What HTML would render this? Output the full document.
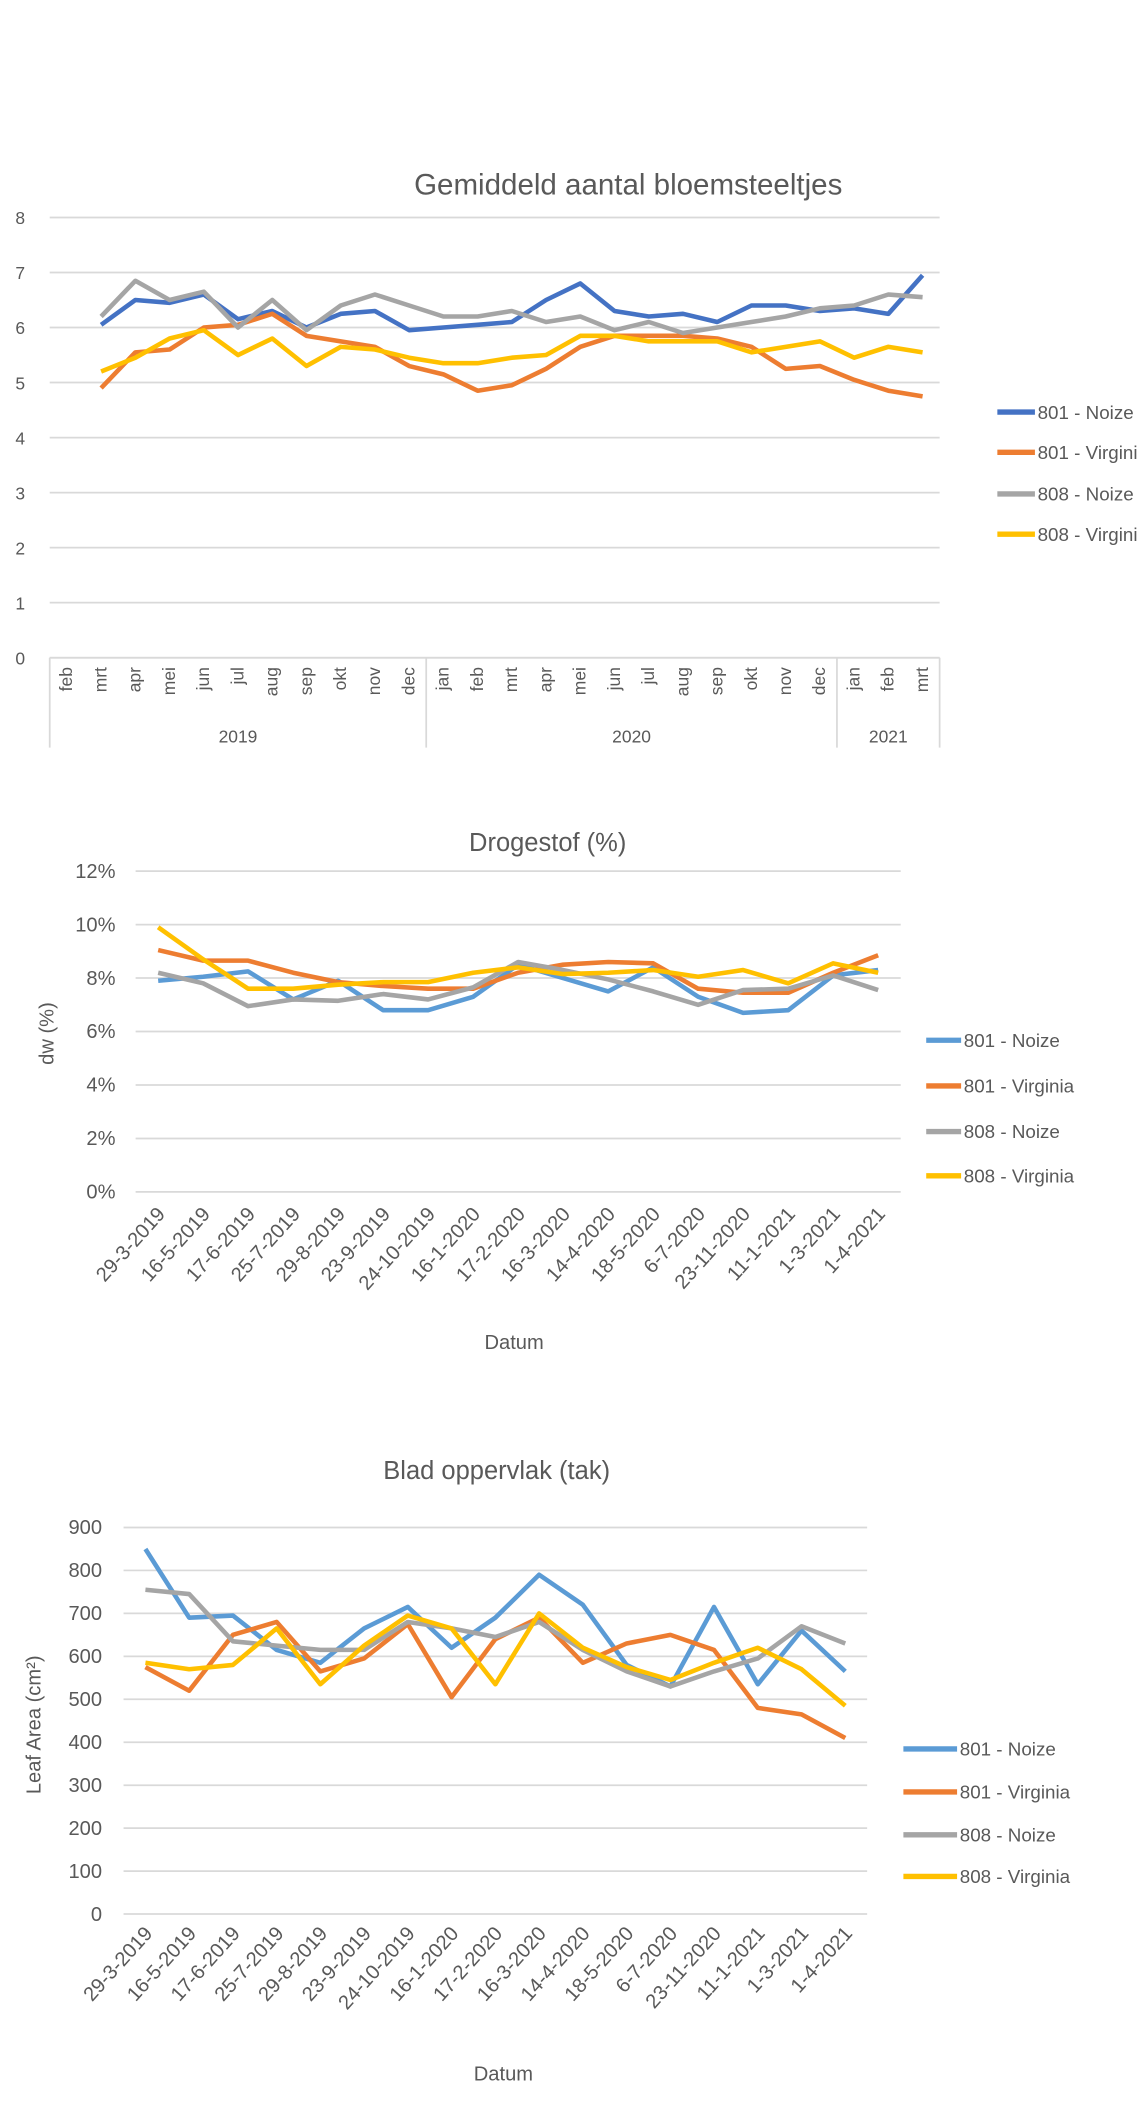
<!DOCTYPE html>
<html><head><meta charset="utf-8"><style>html,body{margin:0;padding:0;background:#fff}svg{display:block}text{font-family:"Liberation Sans",sans-serif;fill:#595959}</style></head>
<body>
<svg id="s" width="1137" height="2106" viewBox="0 0 847 1569" xmlns="http://www.w3.org/2000/svg"></svg>
<script>
// Chart 1 data
const c1Months = ["feb","mrt","apr","mei","jun","jul","aug","sep","okt","nov","dec","jan","feb","mrt","apr","mei","jun","jul","aug","sep","okt","nov","dec","jan","feb","mrt"];
const c1Years = ["2019","2020","2021"];
const c1YearCounts = [11,12,3];
const c1Ticks = ["0","1","2","3","4","5","6","7","8"];
const c1Noize801 = [null,6.05,6.5,6.45,6.6,6.15,6.3,6.0,6.25,6.3,5.95,6.0,6.05,6.1,6.5,6.8,6.3,6.2,6.25,6.1,6.4,6.4,6.3,6.35,6.25,6.95];
const c1Virg801 = [null,4.9,5.55,5.6,6.0,6.05,6.25,5.85,5.75,5.65,5.3,5.15,4.85,4.95,5.25,5.65,5.85,5.85,5.85,5.8,5.65,5.25,5.3,5.05,4.85,4.75];
const c1Noize808 = [null,6.2,6.85,6.5,6.65,6.0,6.5,5.95,6.4,6.6,6.4,6.2,6.2,6.3,6.1,6.2,5.95,6.1,5.9,6.0,6.1,6.2,6.35,6.4,6.6,6.55];
const c1Virg808 = [null,5.2,5.45,5.8,5.95,5.5,5.8,5.3,5.65,5.6,5.45,5.35,5.35,5.45,5.5,5.85,5.85,5.75,5.75,5.75,5.55,5.65,5.75,5.45,5.65,5.55];
// Chart 2/3 categories
const dates = ["29-3-2019","16-5-2019","17-6-2019","25-7-2019","29-8-2019","23-9-2019","24-10-2019","16-1-2020","17-2-2020","16-3-2020","14-4-2020","18-5-2020","6-7-2020","23-11-2020","11-1-2021","1-3-2021","1-4-2021"];
const c2Ticks = ["0%","2%","4%","6%","8%","10%","12%"];
const c2Noize801 = [7.9,8.05,8.25,7.2,7.9,6.8,6.8,7.3,8.5,8.0,7.5,8.4,7.3,6.7,6.8,8.1,8.3];
const c2Virg801 = [9.05,8.65,8.65,8.2,7.85,7.7,7.6,7.6,8.2,8.5,8.6,8.55,7.6,7.45,7.45,8.2,8.85];
const c2Noize808 = [8.2,7.8,6.95,7.2,7.15,7.4,7.2,7.65,8.6,8.3,7.95,7.5,7.0,7.55,7.6,8.1,7.55];
const c2Virg808 = [9.9,8.7,7.6,7.6,7.75,7.85,7.85,8.2,8.4,8.15,8.2,8.3,8.05,8.3,7.8,8.55,8.2];
const c3Ticks = ["0","100","200","300","400","500","600","700","800","900"];
const c3Noize801 = [850,690,695,615,585,665,715,620,690,790,720,580,530,715,535,660,565];
const c3Virg801 = [575,520,650,680,565,595,675,505,640,690,585,630,650,615,480,465,410];
const c3Noize808 = [755,745,635,625,615,615,680,665,645,680,615,565,530,565,595,670,630];
const c3Virg808 = [585,570,580,665,535,625,695,665,535,700,620,575,545,585,620,570,485];
const legendNames = ["801 - Noize","801 - Virginia","808 - Noize","808 - Virginia"];

const svg=document.getElementById('s');const NS="http://www.w3.org/2000/svg";
function mk(tag,attrs,parent,txt){const e=document.createElementNS(NS,tag);for(const k in attrs)e.setAttribute(k,attrs[k]);if(txt!==undefined)e.textContent=txt;(parent||svg).appendChild(e);return e;}

function chart(o){
  const g=mk('g',{});
  
  
  const n=o.cats.length, bw=(o.x1-o.x0)/n;
  const xs=i=>o.x0+bw*(i+0.5);
  const ys=v=>o.yb-(v-o.min)/(o.max-o.min)*(o.yb-o.yt);
  const t=mk('text',{x:o.tx,y:o.ty,'font-size':o.tfs,'text-anchor':'middle'},g,o.title);
  
  
  o.ticks.forEach((lab,i)=>{
    const v=o.min+i*o.step, y=ys(v);
    const l=mk('line',{x1:o.x0,x2:o.x1,y1:y,y2:y,stroke:'#d9d9d9','stroke-width':1.3},g);
    
    
    const tx=mk('text',{x:o.lx,y:y+5,'font-size':o.fs,'text-anchor':o.la},g,lab);
    
    
  });
  o.series.forEach((s,k)=>{
    let d='';s.forEach((v,i)=>{if(v===null)return;d+=(d?'L':'M')+xs(i).toFixed(1)+' '+ys(v).toFixed(1);});
    const p=mk('path',{d:d,fill:'none',stroke:o.colors[k],'stroke-width':3.4,'stroke-linejoin':'round'},g);
    
    
    const ly=o.legY[k];
    const ll=mk('line',{x1:o.legX,x2:o.legX+o.legW,y1:ly,y2:ly,stroke:o.colors[k],'stroke-width':4},g);
    
    
    const lt=mk('text',{x:o.legX+o.legW+2,y:ly+5,'font-size':14},g,legendNames[k]);
    
    
  });
  return {g,xs,bw};
}
const cols1=['#4472C4','#ED7D31','#A5A5A5','#FFC000'];
const cols2=['#5B9BD5','#ED7D31','#A5A5A5','#FFC000'];

const a=chart({name:'chart-bloemsteeltjes',cats:c1Months,x0:37,x1:700,yt:162,yb:490,min:0,max:8,step:1,ticks:c1Ticks,lx:15,la:'middle',fs:13,
 title:'Gemiddeld aantal bloemsteeltjes',tx:468,ty:145,tfs:22,series:[c1Noize801,c1Virg801,c1Noize808,c1Virg808],colors:cols1,
 legX:743,legW:28,legY:[307,337,368,398]});
c1Months.forEach((m,i)=>{const x=a.xs(i);const t=mk('text',{x:0,y:0,'font-size':13,'text-anchor':'end',transform:`translate(${x+4},497) rotate(-90)`},a.g,m);
 
 });
let acc=0;const seps=[0];c1YearCounts.forEach(c=>{acc+=c;seps.push(acc);});
seps.forEach(s=>{const x=37+a.bw*s;const l=mk('line',{x1:x,x2:x,y1:490,y2:557,stroke:'#d9d9d9','stroke-width':1.3},a.g);
 
 });
mk('line',{x1:37,x2:700,y1:490,y2:490,stroke:'#d9d9d9','stroke-width':1.3},a.g);
c1Years.forEach((y,i)=>{const x=37+a.bw*(seps[i]+seps[i+1])/2;const t=mk('text',{x:x,y:553,'font-size':13,'text-anchor':'middle'},a.g,y);
 
 });

function dateAxis(c,y0,ytitle,yx,yy,dx,dy){
  dates.forEach((d,i)=>{const x=c.xs(i);const t=mk('text',{x:0,y:0,'font-size':15,'text-anchor':'end',transform:`translate(${x+6},${y0}) rotate(-48)`},c.g,d);
   
   });
  const t=mk('text',{x:0,y:0,'font-size':15,'text-anchor':'middle',transform:`translate(${yx},${yy}) rotate(-90)`},c.g,ytitle);
  
  
  const x=mk('text',{x:dx,y:dy,'font-size':15,'text-anchor':'middle'},c.g,'Datum');
  
  
}
const b=chart({name:'chart-drogestof',cats:dates,x0:101,x1:671,yt:649,yb:888,min:0,max:12,step:2,ticks:c2Ticks,lx:86,la:'end',fs:15,
 title:'Drogestof (%)',tx:408,ty:634,tfs:19,series:[c2Noize801,c2Virg801,c2Noize808,c2Virg808],colors:cols2,
 legX:690,legW:26,legY:[775,809,843,876]});
dateAxis(b,905,'dw (%)',40,770,383,1005);
const c=chart({name:'chart-blad-oppervlak',cats:dates,x0:92,x1:646,yt:1138,yb:1426,min:0,max:900,step:100,ticks:c3Ticks,lx:76,la:'end',fs:15,
 title:'Blad oppervlak (tak)',tx:370,ty:1102,tfs:19,series:[c3Noize801,c3Virg801,c3Noize808,c3Virg808],colors:cols2,
 legX:673,legW:40,legY:[1303,1335,1367,1398]});
dateAxis(c,1441,'Leaf Area (cm²)',30,1285,375,1550);
</script>
</body></html>
